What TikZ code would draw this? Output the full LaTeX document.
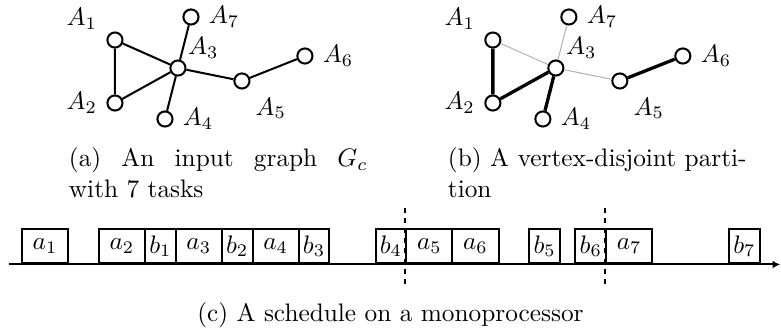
\documentclass[tikz,border=0pt]{standalone}
\usepackage{amsmath,amssymb}
\usepackage{xcolor}
\usepackage{tikz}
\usetikzlibrary{positioning, calc, arrows.meta}

\begin{document}
\begin{tikzpicture}[thick,
    vtx/.style={circle, draw, fill=white, inner sep=0pt, minimum size=0.21cm},
    kept/.style={line width=1.3pt},
    dropped/.style={thin, gray!60},
    slot/.style={draw, rectangle, anchor=south west, inner sep=0pt, minimum height=0.476cm},
    longslot/.style={slot, minimum width=0.641cm},
    shortslot/.style={slot, minimum width=0.427cm},
    subcap/.style={anchor=north west, inner sep=0pt, text width=4.15cm, align=justify}]

    \useasboundingbox (0,0) rectangle (10.85,4.584);

    % (a) Input graph
    \node[vtx, label=170:$A_1$] (n1) at (1.597,4.028) {};
    \node[vtx, label=left:$A_2$] (n2) at (1.597,3.153) {};
    \node[vtx, label={[label distance=-3pt]35:$A_3$}] (n3) at (2.472,3.639) {};
    \node[vtx, label=right:$A_4$] (n4) at (2.292,2.931) {};
    \node[vtx, label=-60:$A_5$] (n5) at (3.361,3.459) {};
    \node[vtx, label=right:$A_6$] (n6) at (4.236,3.806) {};
    \node[vtx, label=right:$A_7$] (n7) at (2.653,4.348) {};
    \draw (n1) -- (n2) (n1) -- (n3) (n2) -- (n3) (n3) -- (n4);
    \draw (n3) -- (n7) (n3) -- (n5) (n5) -- (n6);

    % (b) Partition of the same graph
    \node[vtx, label=170:$A_1$] (m1) at (6.847,4.028) {};
    \node[vtx, label=left:$A_2$] (m2) at (6.847,3.153) {};
    \node[vtx, label={[label distance=-3pt]35:$A_3$}] (m3) at (7.722,3.639) {};
    \node[vtx, label=right:$A_4$] (m4) at (7.542,2.931) {};
    \node[vtx, label=-60:$A_5$] (m5) at (8.611,3.459) {};
    \node[vtx, label=right:$A_6$] (m6) at (9.486,3.806) {};
    \node[vtx, label=right:$A_7$] (m7) at (7.903,4.348) {};
    \draw[dropped] (m1) -- (m3) (m3) -- (m7) (m3) -- (m5);
    \draw[kept] (m1) -- (m2) (m2) -- (m3) (m3) -- (m4) (m5) -- (m6);

    % Sub-captions
    \node[subcap] (capa) at (0.944,2.542) {(a) An input graph $G_c$\linebreak with 7 tasks};
    \node[subcap] (capb) at (6.209,2.542) {(b) A vertex-disjoint parti-\linebreak tion};

    % (c) Schedule, time axis first
    \coordinate (t0) at (0.125,0.910);
    \coordinate (tend) at (10.84,0.910);
    \draw[-{Latex[length=3pt,width=3pt]}] (t0) -- (tend);

    \node[longslot] (sa1) at (0.292,0.910) {$a_1$};
    \node[longslot] (sa2) at (1.360,0.910) {$a_2$};
    \node[shortslot] (sb1) at (2.001,0.910) {$b_1$};
    \node[longslot] (sa3) at (2.428,0.910) {$a_3$};
    \node[shortslot] (sb2) at (3.068,0.910) {$b_2$};
    \node[longslot] (sa4) at (3.495,0.910) {$a_4$};
    \node[shortslot] (sb3) at (4.136,0.910) {$b_3$};
    \node[shortslot] (sb4) at (5.204,0.910) {$b_4$};
    \node[longslot] (sa5) at (5.631,0.910) {$a_5$};
    \node[longslot] (sa6) at (6.271,0.910) {$a_6$};
    \node[shortslot] (sb5) at (7.339,0.910) {$b_5$};
    \node[shortslot] (sb6) at (7.980,0.910) {$b_6$};
    \node[longslot] (sa7) at (8.407,0.910) {$a_7$};
    \node[shortslot] (sb7) at (10.115,0.910) {$b_7$};

    % Period boundaries
    \coordinate (cut1top) at (5.631,1.695);
    \coordinate (cut1bot) at (5.631,0.597);
    \coordinate (cut2top) at (8.407,1.695);
    \coordinate (cut2bot) at (8.407,0.597);
    \draw[dash pattern=on 2pt off 2pt] (cut1top) -- (cut1bot);
    \draw[dash pattern=on 2pt off 2pt] (cut2top) -- (cut2bot);

    \node (capc) at (5.424,0.208) {(c) A schedule on a monoprocessor};

\end{tikzpicture}
\end{document}
